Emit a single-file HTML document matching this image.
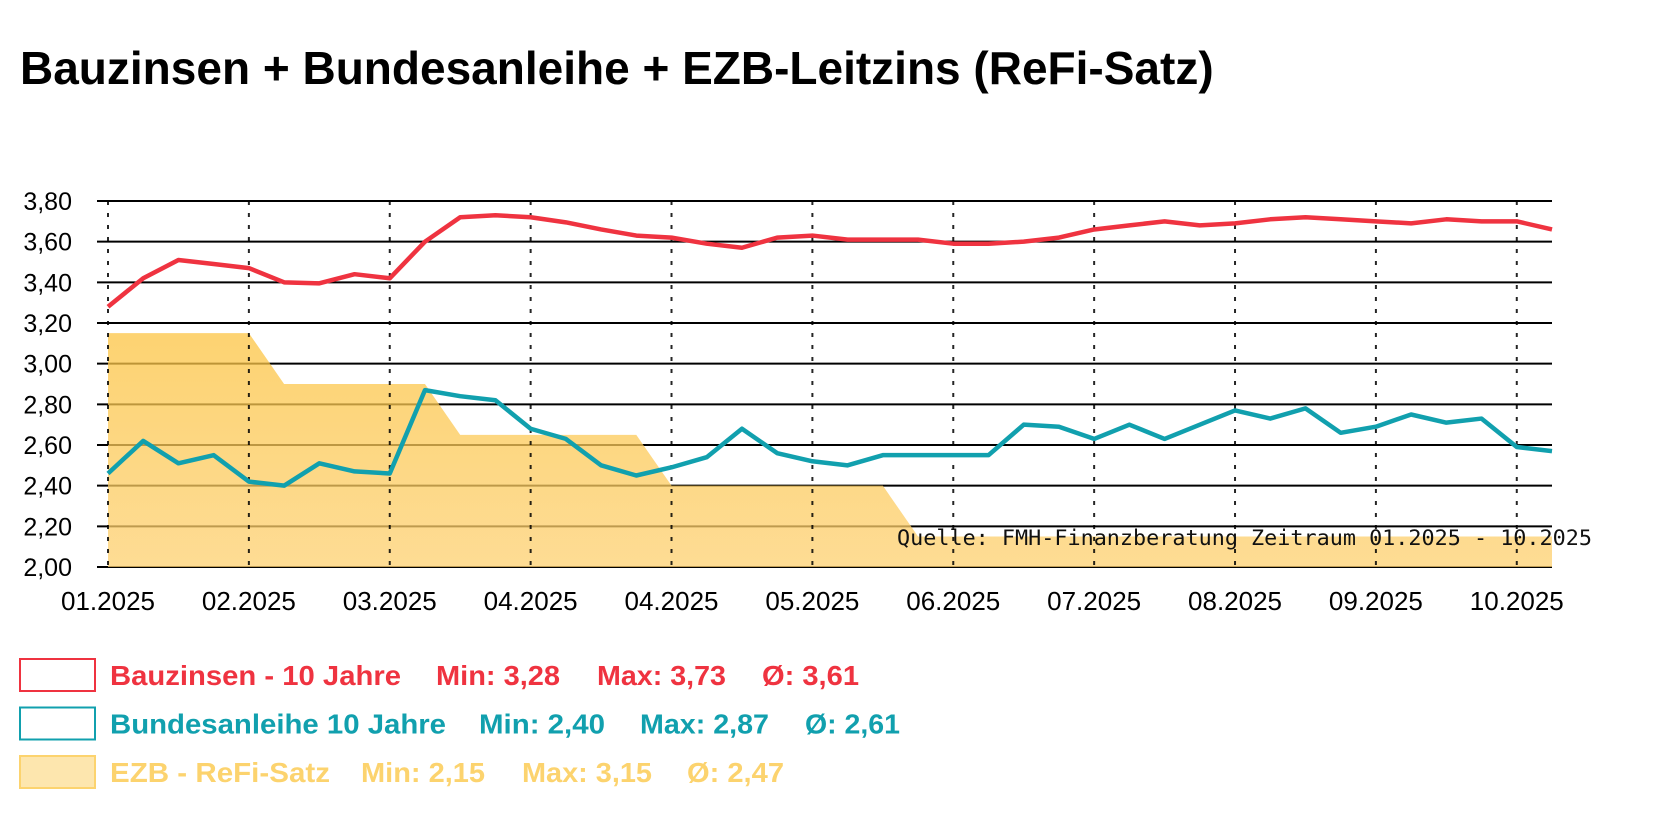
<!DOCTYPE html>
<html><head><meta charset="utf-8"><style>
html,body{margin:0;padding:0;background:#fff;}
svg{display:block;font-family:"Liberation Sans",Arial,sans-serif;}
</style></head><body>
<svg id="chart" width="1680" height="834" viewBox="0 0 1680 834">
<text x="20" y="84" font-size="46" font-weight="bold" fill="#000">Bauzinsen + Bundesanleihe + EZB-Leitzins (ReFi-Satz)</text>
<g id="grid"></g>
<g id="fill"></g>
<g id="vgrid"></g>
<g id="lines"></g>
<g id="axes"></g>
<text x="897" y="545" font-size="21" font-family="'DejaVu Sans Mono','Liberation Mono',monospace" fill="#111" textLength="695" lengthAdjust="spacingAndGlyphs">Quelle: FMH-Finanzberatung    Zeitraum 01.2025 - 10.2025</text>
<g id="legend"></g>
</svg>
<script>
const monthLabels=["01.2025","02.2025","03.2025","04.2025","04.2025","05.2025","06.2025","07.2025","08.2025","09.2025","10.2025"];
const yTicks=[2.0,2.2,2.4,2.6,2.8,3.0,3.2,3.4,3.6,3.8];
const bauzinsen=[3.28,3.42,3.51,3.49,3.47,3.40,3.395,3.44,3.42,3.60,3.72,3.73,3.72,3.695,3.66,3.63,3.62,3.59,3.57,3.62,3.63,3.61,3.61,3.61,3.59,3.59,3.60,3.62,3.66,3.68,3.70,3.68,3.69,3.71,3.72,3.71,3.70,3.69,3.71,3.70,3.70,3.66];
const bund=[2.46,2.62,2.51,2.55,2.42,2.40,2.51,2.47,2.46,2.87,2.84,2.82,2.68,2.63,2.50,2.45,2.49,2.54,2.68,2.56,2.52,2.50,2.55,2.55,2.55,2.55,2.70,2.69,2.63,2.70,2.63,2.70,2.77,2.73,2.78,2.66,2.69,2.75,2.71,2.73,2.59,2.57];
const ezb=[3.15,3.15,3.15,3.15,3.15,2.90,2.90,2.90,2.90,2.90,2.65,2.65,2.65,2.65,2.65,2.65,2.40,2.40,2.40,2.40,2.40,2.40,2.40,2.15,2.15,2.15,2.15,2.15,2.15,2.15,2.15,2.15,2.15,2.15,2.15,2.15,2.15,2.15,2.15,2.15,2.15,2.15];
const legendLabels=["Bauzinsen - 10 Jahre","Bundesanleihe 10 Jahre","EZB - ReFi-Satz"];
const legendStats=[["Min: 3,28","Max: 3,73","Ø: 3,61"],["Min: 2,40","Max: 2,87","Ø: 2,61"],["Min: 2,15","Max: 3,15","Ø: 2,47"]];

const NS="http://www.w3.org/2000/svg";
const X0=108,X1=1552,Y0=567,Y1=201,YMIN=2.0,YMAX=3.8;
const N=bauzinsen.length;
const xi=i=>X0+(X1-X0)*i/(N-1);
const xm=m=>xi(m*4);
const y=v=>Y0-(v-YMIN)/(YMAX-YMIN)*(Y0-Y1);
function mk(tag,attrs,parent){const e=document.createElementNS(NS,tag);for(const k in attrs)e.setAttribute(k,attrs[k]);parent.appendChild(e);return e;}
const grid=document.getElementById('grid'),axes=document.getElementById('axes'),vgrid=document.getElementById('vgrid');
yTicks.forEach(t=>{
  const l=mk('line',{x1:97,x2:X1,y1:y(t),y2:y(t),stroke:'#000','stroke-width':2},grid);
  
  
  const tx=mk('text',{x:72,y:y(t)+9,'font-size':25,'text-anchor':'end',fill:'#000'},axes);
  tx.textContent=t.toFixed(2).replace('.',',');
  
  
});
monthLabels.forEach((m,i)=>{
  const l=mk('line',{x1:xm(i),x2:xm(i),y1:Y1,y2:Y0+4,stroke:'#000','stroke-width':2,'stroke-dasharray':'4 8','stroke-opacity':0.85},vgrid);
  
  
  const tx=mk('text',{x:xm(i),y:610,'font-size':26,'text-anchor':'middle',fill:'#000'},axes);
  tx.textContent=m;
  
  
});
const defs=mk('defs',{},document.getElementById('chart'));
const g=mk('linearGradient',{id:'yg',x1:0,y1:0,x2:0,y2:1},defs);
mk('stop',{offset:0,'stop-color':'#fcc442'},g);mk('stop',{offset:1,'stop-color':'#fdd070'},g);
let d=`M${xi(0)},${Y0}`;ezb.forEach((v,i)=>d+=` L${xi(i)},${y(v)}`);d+=` L${xi(N-1)},${Y0} Z`;
const area=mk('path',{d:d,fill:'url(#yg)','fill-opacity':0.75},document.getElementById('fill'));


const lines=document.getElementById('lines');
[[bauzinsen,'#ef3340','bauzinsen-line'],[bund,'#11a0ae','bundesanleihe-line']].forEach(([arr,c,n])=>{
  const p=mk('polyline',{points:arr.map((v,i)=>xi(i)+','+y(v)).join(' '),fill:'none',stroke:c,'stroke-width':4.5,'stroke-linejoin':'round'},lines);
  
  
});
const leg=document.getElementById('legend');
const cols=['#ef3340','#11a0ae','#fcd36e'];
const fills=['#fff','#fff','#fde6ae'];
const statX=[[436,597,762],[479,640,805],[361,522,687]];
const statW=[[124,129,97],[126,129,95],[124,130,97]];
const labelW=[291,336,220];
legendLabels.forEach((lab,r)=>{
  const cy=675+r*48.5;
  const b=mk('rect',{x:20,y:cy-16,width:75,height:32,fill:fills[r],stroke:cols[r],'stroke-width':2},leg);
  
  
  const t=mk('text',{x:110,y:cy+10,'font-size':28,'font-weight':'bold',fill:cols[r],textLength:labelW[r],lengthAdjust:'spacingAndGlyphs'},leg);
  t.textContent=lab;
  
  
  legendStats[r].forEach((s,k)=>{
    const st=mk('text',{x:statX[r][k],y:cy+10,'font-size':28,'font-weight':'bold',fill:cols[r],textLength:statW[r][k],lengthAdjust:'spacingAndGlyphs'},leg);
    st.textContent=s;
    
    
  });
});
</script>
</body></html>
